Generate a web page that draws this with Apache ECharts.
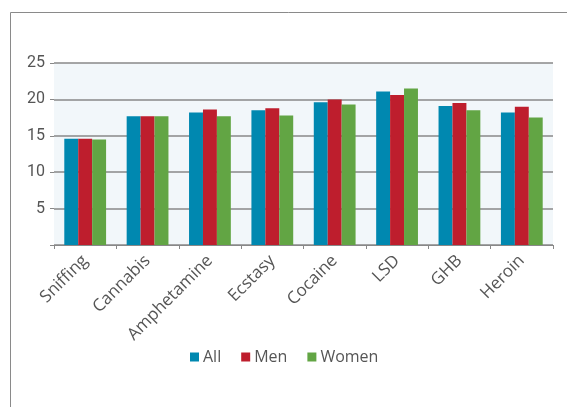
<!DOCTYPE html>
<html><head><meta charset="utf-8">
<script src="https://cdn.jsdelivr.net/npm/echarts@6/dist/echarts.min.js"></script>
<style>html,body{margin:0;padding:0;background:#fff}#c{width:567px;height:407px}</style>
</head><body><div id="c"></div>
<script>
const categories = ['Sniffing','Cannabis','Amphetamine','Ecstasy','Cocaine','LSD','GHB','Heroin'];
const allValues = [14.6, 17.7, 18.2, 18.5, 19.6, 21.1, 19.1, 18.2];
const menValues = [14.6, 17.7, 18.6, 18.8, 20.0, 20.6, 19.5, 19.0];
const womenValues = [14.5, 17.7, 17.7, 17.8, 19.3, 21.5, 18.5, 17.5];
const yTicks = [0, 5, 10, 15, 20, 25];

const chart = echarts.init(document.getElementById('c'), null, {renderer:'canvas'});
const font = 'Roboto, "DejaVu Sans", sans-serif';
const wide = '"Open Sans", Roboto, sans-serif';
chart.setOption({
  animation:false,
  textStyle:{fontFamily:font},
  graphic:[
    {type:'line', shape:{x1:10.5,y1:12.5,x2:567,y2:12.5}, style:{stroke:'#8a8a8a',lineWidth:1}},
    {type:'line', shape:{x1:10.5,y1:12.5,x2:10.5,y2:407}, style:{stroke:'#8a8a8a',lineWidth:1}}
  ],
  grid:{left:54, right:14, top:63, bottom:162, show:true, backgroundColor:'#f2f7fa', borderWidth:0},
  legend:{
    data:['All','Men','Women'], bottom:37, left:185, icon:'rect', itemWidth:9, itemHeight:9, itemGap:20,
    textStyle:{fontSize:16, color:'#555', fontFamily:wide, padding:[0,0,0,-1]}
  },
  xAxis:{
    type:'category', data:categories,
    axisLine:{lineStyle:{color:'#888', width:1}},
    axisTick:{show:true, length:4, lineStyle:{color:'#888'}, alignWithLabel:false},
    axisLabel:{rotate:45, fontSize:17, color:'#555', margin:13, fontFamily:wide}
  },
  yAxis:{
    type:'value', min:0, max:25, interval:5,
    axisLine:{show:false},
    axisTick:{show:true, length:4, lineStyle:{color:'#888'}},
    splitLine:{lineStyle:{color:'#888', width:1.5}},
    axisLabel:{fontSize:16, color:'#555', margin:9, fontFamily:font,
      formatter: v => (yTicks.includes(v) && v !== 0) ? String(v) : ''}
  },
  series:[
    {name:'All', type:'bar', data:allValues, itemStyle:{color:'#0088b0'}, barGap:'0%', barCategoryGap:'33%'},
    {name:'Men', type:'bar', data:menValues, itemStyle:{color:'#be1e2d'}},
    {name:'Women', type:'bar', data:womenValues, itemStyle:{color:'#62a544'}}
  ]
});
</script></body></html>
